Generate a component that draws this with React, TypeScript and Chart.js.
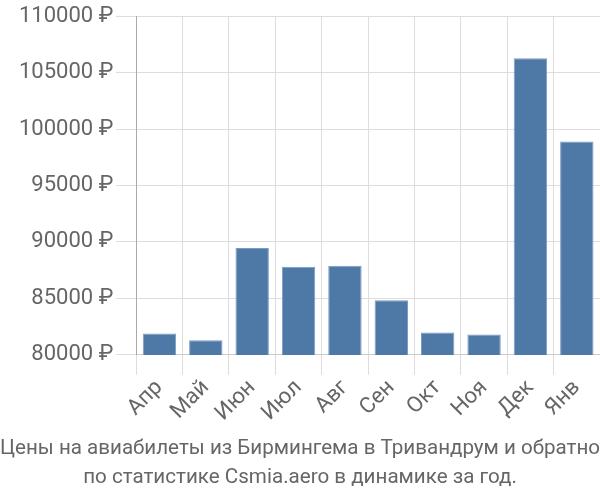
import React, { useEffect, useRef } from "react";
import { Chart, registerables } from "chart.js";

Chart.register(...registerables);

const months = ["Апр", "Май", "Июн", "Июл", "Авг", "Сен", "Окт", "Ноя", "Дек", "Янв"];
const prices = [81890, 81300, 89470, 87800, 87900, 84850, 81980, 81800, 106280, 98910];
const yMin = 80000;
const yMax = 110000;
const yStep = 5000;
const titleLines = [
  "Цены на авиабилеты из Бирмингема в Тривандрум и обратно",
  "по статистике Csmia.aero в динамике за год.",
];

export default function App() {
  const ref = useRef<HTMLCanvasElement>(null);
  useEffect(() => {
    if (!ref.current) return;
    const chart = new Chart(ref.current, {
      type: "bar",
      data: {
        labels: months,
        datasets: [
          {
            data: prices,
            backgroundColor: "#4e79a7",
            borderColor: "#7a9cc2",
            borderWidth: 1,
          },
        ],
      },
      options: {
        animation: false,
        responsive: false,
        layout: { padding: { left: 0, right: 0, top: 2, bottom: 0 } },
        plugins: {
          legend: { display: false },
          tooltip: { enabled: false },
          title: {
            display: true,
            position: "bottom",
            text: titleLines,
            color: "#666",
            font: { family: "Roboto", size: 20.6, weight: "normal", lineHeight: 1.4 },
            padding: { top: 8, bottom: 8 },
          },
        },
        scales: {
          x: {
            grid: { color: "#dddddd", tickLength: 20, offset: true },
            border: { color: "#cccccc" },
            ticks: {
              color: "#666",
              font: { family: "Roboto", size: 22 },
              maxRotation: 45,
              minRotation: 45,
              padding: 0,
            },
          },
          y: {
            min: yMin,
            max: yMax,
            grid: { color: "#dddddd", tickLength: 20 },
            border: { color: "#aaaaaa" },
            afterFit: (s: any) => {
              s.width += 16;
            },
            ticks: {
              stepSize: yStep,
              color: "#666",
              font: { family: "Roboto", size: 22 },
              padding: 3,
              callback: (v: any) => `${v} ₽`,
            },
          },
        },
      },
    });
    return () => chart.destroy();
  }, []);
  return (
    <div style={{ position: "fixed", left: 0, top: 0, width: 600, height: 500 }}>
      <canvas ref={ref} width={600} height={500} />
    </div>
  );
}
